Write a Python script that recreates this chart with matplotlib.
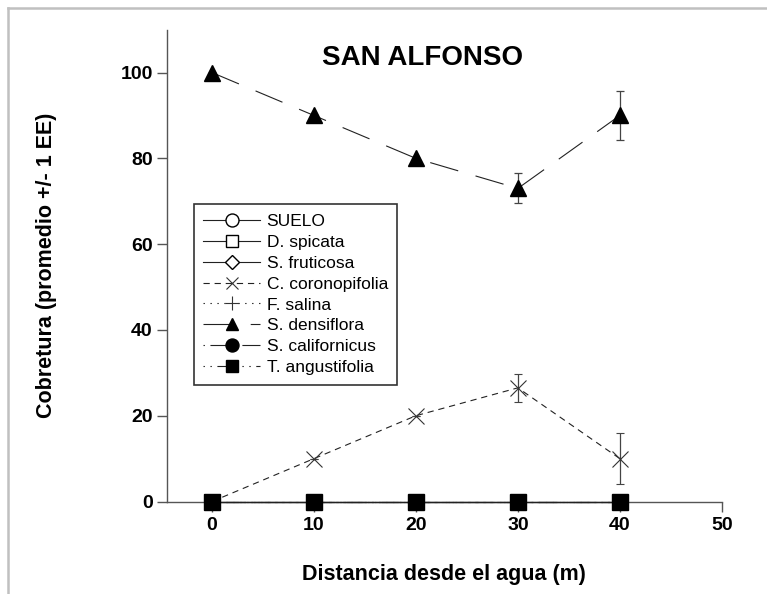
import matplotlib
matplotlib.use("Agg")
import matplotlib.pyplot as plt
from matplotlib.lines import Line2D

plt.rcParams['font.family'] = ['Liberation Sans', 'DejaVu Sans']
plt.rcParams['lines.scale_dashes'] = False

# ---- data ----
distances = [0, 10, 20, 30, 40]
species = ["SUELO", "D. spicata", "S. fruticosa", "C. coronopifolia",
           "F. salina", "S. densiflora", "S. californicus", "T. angustifolia"]
suelo = [0, 0, 0, 0, 0]
d_spicata = [0, 0, 0, 0, 0]
s_fruticosa = [0, 0, 0, 0, 0]
c_coronopifolia = [0, 10, 20, 26.5, 10]
c_coronopifolia_ee = [0, 0, 0, 3.3, 5.9]
f_salina = [0, 0, 0, 0, 0]
s_densiflora = [100, 90, 80, 73, 90]
s_densiflora_ee = [0, 0, 0, 3.5, 5.7]
s_californicus = [0, 0, 0, 0, 0]
t_angustifolia = [0, 0, 0, 0, 0]
zero_ee = [0, 0, 0, 0, 0]
x_ticks = [0, 10, 20, 30, 40, 50]
y_ticks = [0, 20, 40, 60, 80, 100]

fig = plt.figure(figsize=(7.67, 5.94), dpi=100)
ax = fig.add_axes([0.2173, 0.1557, 0.9410 - 0.2173, 0.950 - 0.1557])

lc = '#222222'
lw = 0.8

series = [
    (suelo, zero_ee, dict(marker='o', mfc='white', mec='black', ms=11, ls='-')),
    (d_spicata, zero_ee, dict(marker='s', mfc='white', mec='black', ms=10, ls='-')),
    (s_fruticosa, zero_ee, dict(marker='D', mfc='white', mec='black', ms=8, ls='-')),
    (c_coronopifolia, c_coronopifolia_ee, dict(marker='x', mfc='none', mec='#333333', ms=11, mew=0.8,
                                               dashes=(4.5, 3.5))),
    (f_salina, zero_ee, dict(marker='+', mfc='none', mec='#333333', ms=12, mew=0.8,
                             dashes=(1, 4))),
    (s_densiflora, s_densiflora_ee, dict(marker='^', mfc='black', mec='black', ms=11,
                                         dashes=(21, 13))),
    (s_californicus, zero_ee, dict(marker='o', mfc='black', mec='black', ms=11,
                                   dashes=(1, 4, 14, 4))),
    (t_angustifolia, zero_ee, dict(marker='s', mfc='black', mec='black', ms=11,
                                   dashes=(1, 4, 1, 4, 14, 4))),
]

handles = []
for (vals, err, st), name in zip(series, species):
    kw = dict(st)
    dashes = kw.pop('dashes', None)
    ls = kw.pop('ls', '-')
    eb = ax.errorbar(distances, vals, yerr=err, color=lc, lw=lw, ls=ls,
                     ecolor='#444444', elinewidth=0.9, capsize=3, capthick=0.9,
                     label=name, clip_on=False, zorder=3, **kw)
    line = eb[0]
    if dashes is not None:
        line.set_dashes(dashes)
    handles.append(line)

ax.set_xlim(-4.45, 50)
ax.set_ylim(0, 110)
ax.set_xticks(x_ticks)
ax.set_yticks(y_ticks)
ax.set_xticklabels([str(v) for v in x_ticks], fontsize=14, fontweight='bold')
ax.set_yticklabels([str(v) for v in y_ticks], fontsize=14, fontweight='bold')

for s in ['top', 'right']:
    ax.spines[s].set_visible(False)
for s in ['left', 'bottom']:
    ax.spines[s].set_color('#555555')
    ax.spines[s].set_linewidth(1.0)
ax.tick_params(axis='both', direction='out', length=7, width=1.0, color='#555555', pad=3)
ax.tick_params(axis='x', pad=4)

ax.set_xlabel("Distancia desde el agua (m)", fontsize=15.5, fontweight='bold', labelpad=22)
ax.set_ylabel("Cobretura (promedio +/- 1 EE)", fontsize=15.5, fontweight='bold', labelpad=46)

ax.text(0.46, 0.94, "SAN ALFONSO", transform=ax.transAxes, ha='center', va='center',
        fontsize=20, fontweight='bold')

leg = ax.legend(handles=handles, labels=species, loc='upper left',
                bbox_to_anchor=(0.0486, 0.630), borderaxespad=0,
                fontsize=12.5, frameon=True, fancybox=False, edgecolor='black',
                handlelength=3.3, handletextpad=0.35, labelspacing=0.33,
                borderpad=0.55, markerscale=0.85)
leg.get_frame().set_linewidth(1.2)
leg.set_zorder(5)

# figure border (top and left)
fig.add_artist(Line2D([8 / 767, 8 / 767], [0, 1 - 8 / 594], transform=fig.transFigure,
                      color='#c0c0c0', lw=1.8))
fig.add_artist(Line2D([8 / 767, 1], [1 - 8 / 594, 1 - 8 / 594], transform=fig.transFigure,
                      color='#c0c0c0', lw=1.8))

fig.savefig("out.png", dpi=100)
